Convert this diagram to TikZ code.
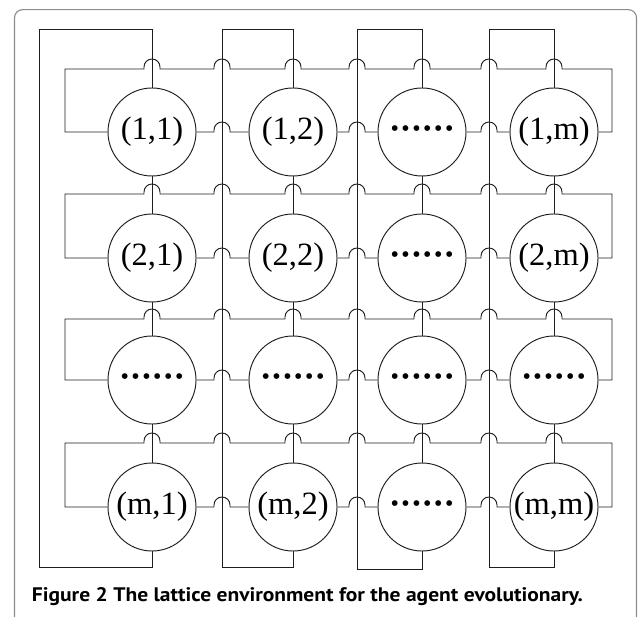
\documentclass[tikz,border=0pt]{standalone}
\usepackage{fontspec}
\setmainfont{Liberation Serif}
\newfontfamily\capfont{PT Sans}
\definecolor{linec}{HTML}{1E1E1E}
\definecolor{framec}{HTML}{8C8C8C}
\newcommand\hop[2]{-- ({#1-8},#2) -- ({#1-8},{#2-2}) arc[start angle=180,end angle=360,radius=8] -- ({#1+8},#2)}
\newcommand\sixdots{\raisebox{2pt}{\fontsize{24}{24}\selectfont •\kern2.5pt•\kern2.5pt•\kern2.5pt•\kern2.5pt•\kern2.5pt•}}
\begin{document}
\begin{tikzpicture}[x=1pt,y=-1pt,
  agent/.style={circle,draw=linec,line width=0.95pt,minimum size=88pt,inner sep=0pt,
    font=\fontsize{32.5}{36}\selectfont},
  wire/.style={draw=linec,line width=0.95pt},
  framebox/.style={draw=framec,line width=1.1pt,rounded corners=8pt}]
\useasboundingbox (0,0) rectangle (639,617);
% frame
\draw[framebox] (14.5,625) -- (14.5,9.7) -- (636.5,9.7) -- (636.5,625);
% agents
\node[agent] (n11) at (152,132) {(1,1)};
\node[agent] (n12) at (293,132) {(1,2)};
\node[agent] (n13) at (422,132) {\sixdots};
\node[agent] (n14) at (554,132) {(1,m)};
\node[agent] (n21) at (152,258) {(2,1)};
\node[agent] (n22) at (293,258) {(2,2)};
\node[agent] (n23) at (422,258) {\sixdots};
\node[agent] (n24) at (554,258) {(2,m)};
\node[agent] (n31) at (152,380) {\sixdots};
\node[agent] (n32) at (293,380) {\sixdots};
\node[agent] (n33) at (422,380) {\sixdots};
\node[agent] (n34) at (554,380) {\sixdots};
\node[agent] (n41) at (152,507) {(m,1)};
\node[agent] (n42) at (293,507) {(m,2)};
\node[agent] (n43) at (422,507) {\sixdots};
\node[agent] (n44) at (554,507) {(m,m)};
% horizontal neighbours
\foreach \i/\y in {1/132,2/258,3/380,4/507}{
  \draw[wire] (n\i1.east) \hop{222}{\y} -- (n\i2.west);
  \draw[wire] (n\i2.east) \hop{357}{\y} -- (n\i3.west);
  \draw[wire] (n\i3.east) \hop{489}{\y} -- (n\i4.west);
}
% row wrap-around
\foreach \i/\y/\h in {1/132/69,2/258/194,3/380/319,4/507/443}{
  \draw[wire] (n\i1.west) -- (65,\y) -- (65,\h) \hop{152}{\h} \hop{222}{\h} \hop{293}{\h}
    \hop{357}{\h} \hop{422}{\h} \hop{489}{\h} \hop{554}{\h} -- (612,\h) -- (612,\y) -- (n\i4.east);
}
% vertical neighbours and column wrap-around
\foreach \j/\x/\w/\b in {1/152/39/567,2/293/222/567,3/422/357/569,4/554/489/567}{
  \draw[wire] (n1\j.north) -- (\x,29) -- (\w,29) -- (\w,\b) -- (\x,\b) -- (n4\j.south);
  \draw[wire] (n1\j.south) -- (n2\j.north);
  \draw[wire] (n2\j.south) -- (n3\j.north);
  \draw[wire] (n3\j.south) -- (n4\j.north);
}
% caption
\node[anchor=base west,inner sep=0pt] (cap) at (31.7,601.7)
  {\resizebox{551pt}{14pt}{\capfont\bfseries\fontsize{20}{24}\selectfont Figure 2 The lattice environment for the agent evolutionary.}};
\end{tikzpicture}
\end{document}
